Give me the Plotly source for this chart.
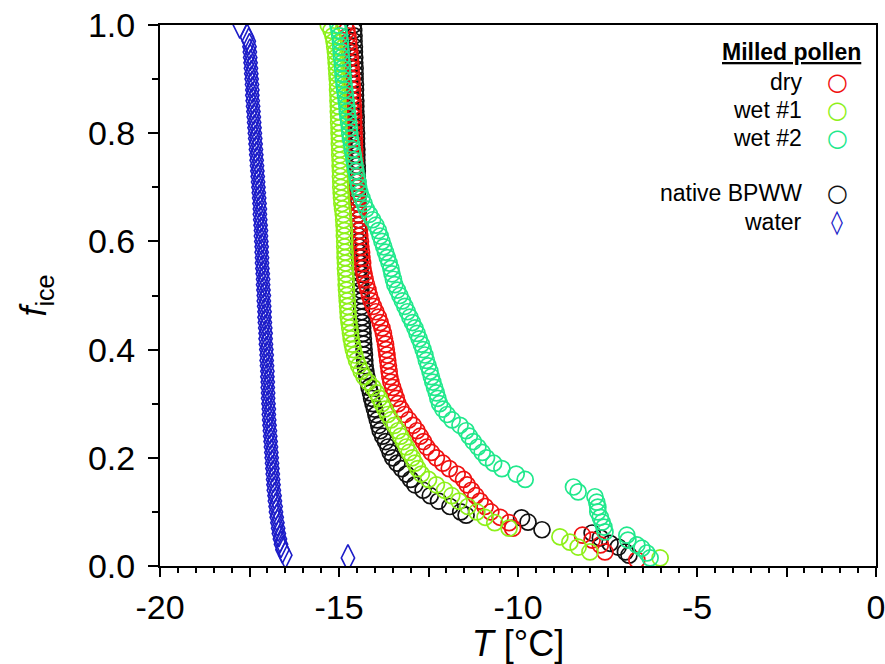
import plotly.graph_objects as go

# shared f_ice grid (fraction frozen), 1.00 .. 0.01
F_GRID = [1.00, 0.99, 0.98, 0.97, 0.96, 0.95, 0.94, 0.93, 0.92, 0.91,
          0.90, 0.89, 0.88, 0.87, 0.86, 0.85, 0.84, 0.83, 0.82, 0.81,
          0.80, 0.79, 0.78, 0.77, 0.76, 0.75, 0.74, 0.73, 0.72, 0.71,
          0.70, 0.69, 0.68, 0.67, 0.66, 0.65, 0.64, 0.63, 0.62, 0.61,
          0.60, 0.59, 0.58, 0.57, 0.56, 0.55, 0.54, 0.53, 0.52, 0.51,
          0.50, 0.49, 0.48, 0.47, 0.46, 0.45, 0.44, 0.43, 0.42, 0.41,
          0.40, 0.39, 0.38, 0.37, 0.36, 0.35, 0.34, 0.33, 0.32, 0.31,
          0.30, 0.29, 0.28, 0.27, 0.26, 0.25, 0.24, 0.23, 0.22, 0.21,
          0.20, 0.19, 0.18, 0.17, 0.16, 0.15, 0.14, 0.13, 0.12, 0.11,
          0.10, 0.09, 0.08, 0.07, 0.06, 0.05, 0.04, 0.03, 0.02, 0.01]

# dry milled pollen (red)
dry_T_main = [-14.83, -14.78, -14.75, -14.73, -14.72, -14.70, -14.68, -14.67, -14.66, -14.65,
              -14.64, -14.63, -14.62, -14.62, -14.61, -14.60, -14.60, -14.59, -14.59, -14.58,
              -14.58, -14.57, -14.57, -14.56, -14.56, -14.55, -14.55, -14.54, -14.53, -14.53,
              -14.52, -14.51, -14.50, -14.49, -14.48, -14.47, -14.46, -14.44, -14.43, -14.42,
              -14.40, -14.39, -14.37, -14.36, -14.34, -14.33, -14.30, -14.27, -14.23, -14.19,
              -14.15, -14.10, -14.04, -13.97, -13.90, -13.85, -13.80, -13.76, -13.73, -13.70,
              -13.68, -13.66, -13.64, -13.62, -13.60, -13.58, -13.55, -13.50, -13.45, -13.40,
              -13.35, -13.27, -13.17, -13.05, -12.93, -12.82, -12.73, -12.64, -12.55, -12.42,
              -12.28, -12.10, -11.92, -11.70, -11.52, -11.42, -11.30, -11.18, -11.06, -10.92,
              -10.76, -10.50, -10.25, -10.15]
dry_f_tail = [0.057, 0.048, 0.039, 0.026, 0.011]
dry_T_tail = [-8.20, -7.93, -7.70, -7.57, -6.68]

# wet #1 milled pollen (yellow-green)
wet1_T_main = [-15.30, -15.22, -15.17, -15.14, -15.12, -15.10, -15.09, -15.08, -15.07, -15.06,
               -15.05, -15.04, -15.04, -15.03, -15.03, -15.02, -15.02, -15.01, -15.01, -15.00,
               -15.00, -14.99, -14.99, -14.98, -14.98, -14.97, -14.97, -14.96, -14.96, -14.95,
               -14.95, -14.94, -14.93, -14.92, -14.90, -14.88, -14.87, -14.86, -14.85, -14.85,
               -14.84, -14.84, -14.83, -14.83, -14.82, -14.82, -14.81, -14.80, -14.80, -14.79,
               -14.78, -14.77, -14.76, -14.75, -14.74, -14.72, -14.70, -14.68, -14.66, -14.63,
               -14.60, -14.56, -14.51, -14.45, -14.38, -14.30, -14.18, -14.05, -13.95, -13.87,
               -13.80, -13.72, -13.64, -13.55, -13.45, -13.35, -13.28, -13.20, -13.12, -13.04,
               -12.95, -12.88, -12.80, -12.70, -12.50, -12.28, -12.05, -11.85, -11.65, -11.40,
               -11.15, -10.92, -10.65, -10.25]
wet1_f_tail = [0.054, 0.044, 0.035, 0.026, 0.015]
wet1_T_tail = [-8.83, -8.55, -8.32, -7.99, -6.03]

# wet #2 milled pollen (spring green)
wet2_T_main = [-15.03, -15.00, -14.98, -14.96, -14.95, -14.94, -14.93, -14.91, -14.90, -14.89,
               -14.88, -14.86, -14.84, -14.82, -14.80, -14.78, -14.77, -14.75, -14.73, -14.71,
               -14.70, -14.68, -14.65, -14.63, -14.60, -14.58, -14.55, -14.53, -14.50, -14.47,
               -14.45, -14.41, -14.36, -14.30, -14.24, -14.15, -14.06, -13.97, -13.90, -13.85,
               -13.80, -13.75, -13.70, -13.65, -13.60, -13.55, -13.52, -13.48, -13.44, -13.37,
               -13.30, -13.23, -13.16, -13.09, -13.02, -12.95, -12.88, -12.82, -12.76, -12.70,
               -12.65, -12.60, -12.56, -12.51, -12.46, -12.42, -12.38, -12.33, -12.28, -12.24,
               -12.19, -12.10, -11.98, -11.84, -11.62, -11.45, -11.36, -11.25, -11.12, -11.00,
               -10.88, -10.68, -10.45, -10.05, -9.80]
wet2_f_tail = [0.146, 0.137, 0.128, 0.118, 0.109, 0.100, 0.090, 0.081, 0.072, 0.063,
               0.057, 0.048, 0.039, 0.033, 0.024, 0.015]
wet2_T_tail = [-8.45, -8.32, -7.85, -7.80, -7.77, -7.77, -7.70, -7.65, -7.60, -7.57,
               -6.96, -6.93, -6.68, -6.54, -6.40, -6.31]

# native birch pollen washing water (black)
bpww_T_main = [-14.60, -14.59, -14.58, -14.58, -14.57, -14.57, -14.56, -14.56, -14.55, -14.55,
               -14.55, -14.54, -14.54, -14.54, -14.53, -14.53, -14.53, -14.52, -14.52, -14.52,
               -14.51, -14.51, -14.51, -14.50, -14.50, -14.50, -14.49, -14.49, -14.49, -14.48,
               -14.48, -14.48, -14.47, -14.47, -14.47, -14.46, -14.46, -14.46, -14.45, -14.45,
               -14.45, -14.44, -14.44, -14.43, -14.42, -14.41, -14.40, -14.40, -14.39, -14.39,
               -14.38, -14.38, -14.37, -14.37, -14.36, -14.35, -14.34, -14.33, -14.32, -14.31,
               -14.30, -14.29, -14.28, -14.27, -14.25, -14.22, -14.19, -14.16, -14.12, -14.09,
               -14.05, -14.01, -13.97, -13.93, -13.89, -13.85, -13.78, -13.70, -13.63, -13.57,
               -13.50, -13.38, -13.25, -13.12, -13.00, -12.88, -12.65, -12.45, -12.22, -11.90,
               -11.60]
bpww_f_tail = [0.094, 0.089, 0.081, 0.067, 0.061, 0.052, 0.042, 0.035, 0.026, 0.020]
bpww_T_tail = [-11.45, -9.90, -9.72, -9.33, -7.93, -7.70, -7.43, -7.20, -7.00, -6.90]

# pure water (blue diamonds)
water_f_top = [1.00, 0.978]
water_T_top = [-17.77, -17.57]
water_T_main = [-17.52, -17.50, -17.49, -17.48, -17.47, -17.46, -17.45,
                -17.44, -17.43, -17.42, -17.42, -17.41, -17.40, -17.39, -17.38, -17.37, -17.36,
                -17.35, -17.34, -17.33, -17.32, -17.31, -17.30, -17.29, -17.28, -17.27, -17.26,
                -17.25, -17.24, -17.23, -17.22, -17.21, -17.21, -17.20, -17.19, -17.18, -17.18,
                -17.17, -17.16, -17.16, -17.15, -17.15, -17.14, -17.13, -17.12, -17.12, -17.11,
                -17.10, -17.10, -17.09, -17.08, -17.08, -17.07, -17.06, -17.05, -17.05, -17.04,
                -17.03, -17.02, -17.02, -17.01, -17.00, -17.00, -16.99, -16.99, -16.98, -16.98,
                -16.97, -16.96, -16.96, -16.95, -16.94, -16.93, -16.92, -16.91, -16.90, -16.89,
                -16.88, -16.87, -16.86, -16.85, -16.84, -16.83, -16.82, -16.80, -16.79, -16.77,
                -16.76, -16.74, -16.72, -16.70, -16.68, -16.65, -16.62, -16.58, -16.50]
water_f_tail = [0.015]
water_T_tail = [-14.75]

x_ticks = [-20, -17.5, -15, -12.5, -10, -7.5, -5, -2.5, 0]
x_ticktext = ["-20", "", "-15", "", "-10", "", "-5", "", "0"]
y_ticks = [0.0, 0.2, 0.4, 0.6, 0.8, 1.0]
y_ticktext = ["0.0", "0.2", "0.4", "0.6", "0.8", "1.0"]

FONT = "Liberation Sans, Arial, sans-serif"
C_DRY, C_WET1, C_WET2, C_BPWW, C_WATER = "#f01010", "#8ef01a", "#20e88c", "#111111", "#1c1cc8"

series = [
    ("native BPWW", bpww_T_main + bpww_T_tail, F_GRID[:len(bpww_T_main)] + bpww_f_tail, C_BPWW),
    ("dry", dry_T_main + dry_T_tail, F_GRID[:len(dry_T_main)] + dry_f_tail, C_DRY),
    ("wet #1", wet1_T_main + wet1_T_tail, F_GRID[:len(wet1_T_main)] + wet1_f_tail, C_WET1),
    ("wet #2", wet2_T_main + wet2_T_tail, F_GRID[:len(wet2_T_main)] + wet2_f_tail, C_WET2),
]

fig = go.Figure()
for name, xs, ys, col in series:
    fig.add_trace(go.Scatter(x=xs, y=ys, mode="markers", name=name, showlegend=False,
                             marker=dict(symbol="circle-open", size=16, color=col,
                                         line=dict(width=1.7, color=col))))

water_x = water_T_top + water_T_main + water_T_tail
water_y = water_f_top + F_GRID[3:3 + len(water_T_main)] + water_f_tail
fig.add_trace(go.Scatter(x=water_x, y=water_y, mode="markers", name="water", showlegend=False,
                         marker=dict(symbol="diamond-tall-open", size=19, color=C_WATER,
                                     line=dict(width=1.6, color=C_WATER))))

axis_common = dict(showline=True, linecolor="black", linewidth=2, mirror=True,
                   ticks="outside", tickcolor="black", tickwidth=2,
                   showgrid=False, zeroline=False, automargin=False,
                   ticklabeloverflow="allow",
                   tickfont=dict(family=FONT, size=34, color="black"))

fig.update_xaxes(range=[-20, 0], tickmode="array", tickvals=x_ticks, ticktext=x_ticktext,
                 ticklen=9, ticklabelstandoff=1,
                 minor=dict(dtick=0.5, tick0=0, ticklen=5, tickwidth=2, ticks="outside", tickcolor="black"),
                 title=dict(text="<i>T</i> [°C]", font=dict(family=FONT, size=36, color="black"), standoff=5),
                 **axis_common)
fig.update_yaxes(range=[0, 1], tickmode="array", tickvals=y_ticks, ticktext=y_ticktext,
                 ticklen=10, ticklabelstandoff=6,
                 minor=dict(dtick=0.1, tick0=0, ticklen=6, tickwidth=2, ticks="outside", tickcolor="black"),
                 title=dict(text="<i>f</i><sub>ice</sub>", font=dict(family=FONT, size=36, color="black"), standoff=30),
                 **axis_common)

# legend (text on the left, symbol on the right)
legend_rows = [
    ("dry", "○", C_DRY, 0.895),
    ("wet #1", "○", C_WET1, 0.843),
    ("wet #2", "○", C_WET2, 0.791),
    ("native BPWW", "○", C_BPWW, 0.690),
    ("water", "◊", C_WATER, 0.636),
]
ann = [dict(xref="paper", yref="paper", x=0.982, y=0.951, xanchor="right", yanchor="middle",
            text="<b><u>Milled pollen</u></b>", showarrow=False,
            font=dict(family=FONT, size=23, color="black"))]
for label, glyph, col, yy in legend_rows:
    ann.append(dict(xref="paper", yref="paper", x=0.899, y=yy, xanchor="right", yanchor="middle",
                    text=label, showarrow=False, font=dict(family=FONT, size=23, color="black")))
    ann.append(dict(xref="paper", yref="paper", x=0.946, y=yy, xanchor="center", yanchor="middle",
                    text=glyph, showarrow=False, font=dict(family="DejaVu Sans", size=24, color=col)))

fig.update_layout(width=885, height=664, margin=dict(l=160, r=9, t=25, b=98),
                  plot_bgcolor="white", paper_bgcolor="white", annotations=ann,
                  font=dict(family=FONT, color="black"))

fig.write_html("out.html")
